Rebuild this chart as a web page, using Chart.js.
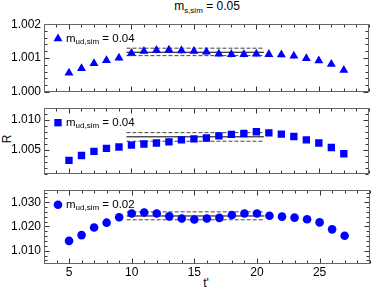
<!DOCTYPE html>
<html>
<head>
<meta charset="utf-8">
<script src="https://cdn.jsdelivr.net/npm/chart.js@4.4.1/dist/chart.umd.min.js"></script>
<style>
  body { margin: 0; width: 374px; height: 288px; position: relative; background: #fff; overflow: hidden;
         font-family: "Liberation Sans", Arial, sans-serif; }
  canvas { position: absolute; left: 0; }
  .lbl { position: absolute; font-size: 12px; line-height: 14px; color: #000; white-space: nowrap; text-align: center; }
  sub { font-size: 8px; vertical-align: -3px; line-height: 0; }
</style>
</head>
<body>
<div class="lbl" style="left:107px; top:-1px; width:200px;">m<sub>s,sim</sub> = 0.05</div>
<div class="lbl" style="left:1px; top:132px; width:12px; transform:rotate(-90deg);">R</div>
<div class="lbl" style="left:196px; top:276px; width:20px;">t'</div>
<canvas id="panelA" width="374" height="88" style="top:14px"></canvas>
<canvas id="panelB" width="374" height="86" style="top:98px"></canvas>
<canvas id="panelC" width="374" height="108" style="top:180px"></canvas>
<script>
const tValues = [5, 6, 7, 8, 9, 10, 11, 12, 13, 14, 15, 16, 17, 18, 19, 20, 21, 22, 23, 24, 25, 26, 27];

// m_ud,sim = 0.04 (triangles)
const rA = [1.00056, 1.00069, 1.00084, 1.00093, 1.00100, 1.00114, 1.00120, 1.00123, 1.00124, 1.00122, 1.00120, 1.00118,
            1.00112, 1.00111, 1.00111, 1.00112, 1.00111, 1.00110, 1.00106, 1.00099, 1.00092, 1.00082, 1.00064];
const errA = [0.00006, 0.00007, 0.00008, 0.00008, 0.00009, 0.00009, 0.00009, 0.0001, 0.0001, 0.0001, 0.0001, 0.0001,
              0.0001, 0.0001, 0.0001, 0.0001, 0.00009, 0.00009, 0.00008, 0.00008, 0.00007, 0.00007, 0.00006];

// m_ud,sim = 0.04 (squares)
const rB = [1.00325, 1.00406, 1.00475, 1.00526, 1.00550, 1.00580, 1.00600, 1.00616, 1.00636, 1.00670, 1.00685, 1.00700,
            1.00736, 1.00760, 1.00775, 1.00805, 1.00786, 1.00766, 1.00726, 1.00670, 1.00616, 1.00541, 1.00436];
const errB = [0.0003, 0.00035, 0.0004, 0.00045, 0.0005, 0.0005, 0.00055, 0.00055, 0.00055, 0.0005, 0.0005, 0.0005,
              0.0005, 0.00045, 0.00045, 0.0004, 0.0004, 0.0004, 0.0004, 0.0004, 0.00035, 0.0003, 0.0003];

// m_ud,sim = 0.02 (circles)
const rC = [1.01407, 1.01644, 1.01960, 1.02158, 1.02380, 1.02538, 1.02577, 1.02538, 1.02419, 1.02328, 1.02289, 1.02328,
            1.02356, 1.02474, 1.02538, 1.02538, 1.02447, 1.02407, 1.02368, 1.02300, 1.02170, 1.01881, 1.01617];
const errC = [0.0008, 0.001, 0.0012, 0.0014, 0.0016, 0.0017, 0.0018, 0.0018, 0.0018, 0.0017, 0.0017, 0.0017,
              0.0016, 0.0016, 0.0015, 0.0015, 0.0013, 0.0013, 0.0012, 0.0012, 0.0011, 0.001, 0.0009];

// plateau fits: [central, upper, lower], drawn over fitRange
const fitRange = [9.6, 20.6];
const fitA = [1.00117, 1.00129, 1.00107];
const fitB = [1.0072, 1.0079, 1.00646];
const fitC = [1.02435, 1.02605, 1.02277];

const xTicks = [5, 10, 15, 20, 25];
const yTicksA = [1.000, 1.001, 1.002];
const yTicksB = [1.005, 1.010];
const yTicksC = [1.010, 1.020, 1.030];

const BLUE = "#0000ff";
const ERR_COLOR = "rgba(90,120,255,0.75)";
const FONT = '"Liberation Sans", Arial, sans-serif';

function stepValues(min, max, step) {
  const out = [];
  const k0 = Math.ceil(min / step - 1e-6), k1 = Math.floor(max / step + 1e-6);
  for (let k = k0; k <= k1; k++) out.push(k * step);
  return out;
}

const panelPlugin = {
  id: "panel",
  beforeDatasetsDraw(chart, args, opts) {
    const ctx = chart.ctx, xs = chart.scales.x, ys = chart.scales.y;
    ctx.save();
    ctx.strokeStyle = ERR_COLOR;
    ctx.lineWidth = 1.5;
    opts.values.forEach((v, i) => {
      const px = xs.getPixelForValue(tValues[i]);
      ctx.beginPath();
      ctx.moveTo(px, ys.getPixelForValue(v - opts.errors[i]));
      ctx.lineTo(px, ys.getPixelForValue(v + opts.errors[i]));
      ctx.stroke();
    });
    ctx.restore();
  },
  afterDraw(chart, args, opts) {
    const ctx = chart.ctx, xs = chart.scales.x, ys = chart.scales.y;
    const a = chart.chartArea;
    const L = Math.round(a.left) + 0.5, R = Math.round(a.right) - 0.5;
    const T = Math.round(a.top) + 0.5, B = Math.round(a.bottom) - 0.5;
    ctx.save();
    // ticks on all four sides, pointing inward
    ctx.strokeStyle = "#333";
    ctx.lineWidth = 1;
    ctx.beginPath();
    stepValues(xs.min, xs.max, 1).forEach(v => {
      const len = Math.abs(v % 5) < 1e-6 ? 5 : 3;
      const px = Math.round(xs.getPixelForValue(v)) + 0.5;
      ctx.moveTo(px, B); ctx.lineTo(px, B - len);
      ctx.moveTo(px, T); ctx.lineTo(px, T + len);
    });
    stepValues(ys.min, ys.max, opts.minorStep).forEach(v => {
      const major = opts.majorTicks.some(m => Math.abs(m - v) < opts.minorStep / 10);
      const len = major ? 5 : 3;
      const py = Math.round(ys.getPixelForValue(v)) + 0.5;
      ctx.moveTo(L, py); ctx.lineTo(L + len, py);
      ctx.moveTo(R, py); ctx.lineTo(R - len, py);
    });
    ctx.stroke();
    // frame
    ctx.strokeStyle = "#666";
    ctx.strokeRect(L, T, R - L, B - T);

    // legend entry with subscript
    const lx = a.left + 14, ly = a.top + 14.5;
    ctx.fillStyle = BLUE;
    ctx.strokeStyle = BLUE;
    Chart.helpers.drawPoint(ctx, { pointStyle: opts.pointStyle, radius: opts.radius, rotation: 0, borderWidth: 0 }, lx, ly);
    ctx.fillStyle = "#000";
    ctx.textBaseline = "middle";
    ctx.textAlign = "left";
    let tx = a.left + 22;
    ctx.font = "11.5px " + FONT;
    ctx.fillText("m", tx, ly);
    tx += ctx.measureText("m").width;
    ctx.font = "8px " + FONT;
    ctx.fillText("ud,sim", tx, ly + 3.5);
    tx += ctx.measureText("ud,sim").width;
    ctx.font = "11.5px " + FONT;
    ctx.fillText(" = " + opts.label, tx, ly);
    ctx.restore();
  }
};

function makePanel(id, cfg) {
  const fitData = y => [{ x: fitRange[0], y: y }, { x: fitRange[1], y: y }];
  new Chart(document.getElementById(id), {
    type: "scatter",
    data: {
      datasets: [
        {
          data: tValues.map((t, i) => ({ x: t, y: cfg.values[i] })),
          pointStyle: cfg.pointStyle,
          pointRadius: cfg.radius,
          pointBackgroundColor: BLUE,
          pointBorderColor: BLUE,
          pointBorderWidth: 0,
          order: 0
        },
        { data: fitData(cfg.fit[0]), showLine: true, borderColor: "#000", borderWidth: 1, pointRadius: 0, order: 1 },
        { data: fitData(cfg.fit[1]), showLine: true, borderColor: "#444", borderWidth: 1, borderDash: [4, 2], pointRadius: 0, order: 1 },
        { data: fitData(cfg.fit[2]), showLine: true, borderColor: "#444", borderWidth: 1, borderDash: [4, 2], pointRadius: 0, order: 1 }
      ]
    },
    options: {
      responsive: false,
      animation: false,
      events: [],
      layout: { padding: { left: 0, right: 4, top: cfg.padTop, bottom: 0 } },
      plugins: {
        legend: { display: false },
        tooltip: { enabled: false },
        panel: {
          values: cfg.values, errors: cfg.errors, minorStep: cfg.minorStep, majorTicks: cfg.yTicks,
          pointStyle: cfg.pointStyle, radius: cfg.radius, label: cfg.label
        }
      },
      scales: {
        x: {
          type: "linear", min: 3, max: 29,
          grid: { display: false, drawTicks: false },
          border: { display: false },
          afterBuildTicks: s => { s.ticks = xTicks.map(v => ({ value: v })); },
          afterFit: s => { s.height = cfg.xHeight; },
          ticks: { display: cfg.showX, color: "#000", padding: 1, font: { family: FONT, size: 12 } }
        },
        y: {
          min: cfg.yMin, max: cfg.yMax,
          grid: { display: false, drawTicks: false },
          border: { display: false },
          afterBuildTicks: s => { s.ticks = cfg.yTicks.map(v => ({ value: v })); },
          afterFit: s => { s.width = 44; },
          ticks: { color: "#000", padding: 3, font: { family: FONT, size: 12 }, callback: v => v.toFixed(3) }
        }
      }
    },
    plugins: [panelPlugin]
  });
}

makePanel("panelA", {
  values: rA, errors: errA, fit: fitA, yTicks: yTicksA, yMin: 1.000, yMax: 1.002, minorStep: 0.0002,
  pointStyle: "triangle", radius: 5.2, label: "0.04", padTop: 7, xHeight: 6, showX: false
});
makePanel("panelB", {
  values: rB, errors: errB, fit: fitB, yTicks: yTicksB, yMin: 1.001, yMax: 1.012, minorStep: 0.001,
  pointStyle: "rect", radius: 5.2, label: "0.04", padTop: 6, xHeight: 7, showX: false
});
makePanel("panelC", {
  values: rC, errors: errC, fit: fitC, yTicks: yTicksC, yMin: 1.0045, yMax: 1.035, minorStep: 0.002,
  pointStyle: "circle", radius: 4.3, label: "0.02", padTop: 6, xHeight: 24, showX: true
});
</script>
</body>
</html>
